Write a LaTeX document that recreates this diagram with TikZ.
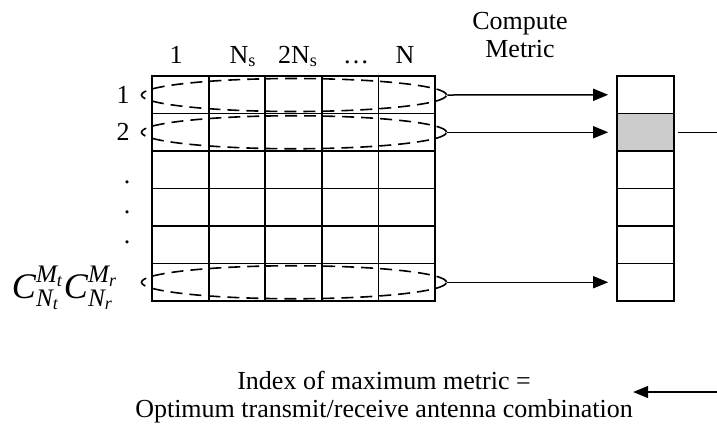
\documentclass[tikz,border=0pt]{standalone}
\usepackage{fontspec}
\setmainfont{Liberation Serif}
\usetikzlibrary{positioning,arrows.meta,shapes.geometric}

\begin{document}
\begin{tikzpicture}[
    x=0.5pt, y=-0.5pt,
    every node/.style={font=\fontsize{13}{14}\selectfont},
    cell/.style={draw, line width=0.9pt, minimum width=28.3pt, minimum height=18.75pt, inner sep=0pt, outer sep=0pt},
    ring/.style={draw, ellipse, line width=0.8pt, dash pattern=on 6pt off 3.5pt, minimum width=152.5pt, minimum height=16.5pt, inner sep=0pt},
    head/.style={anchor=base, inner sep=0pt},
    link/.style={line width=0.75pt, -{Triangle[length=7.5pt,width=6pt]}}
]
    \useasboundingbox (0,0) rectangle (717,425);

    % candidate matrix
    \foreach \r in {1,...,6}
        \foreach \c in {1,...,5}
            \node[cell] (g\r\c) at ({152+56.6*(\c-0.5)}, {76+37.5*(\r-0.5)}) {};

    % metric column
    \foreach \r in {1,...,6}
        \node[cell] (m\r) at (645.5, {76+37.5*(\r-0.5)}) {};
    \node[cell, fill=black!20] (m2) at (645.5, 132.25) {};

    % column headers
    \node[head] (h1) at (176,63) {1};
    \node[head] (h2) at (243,63) {N$_{\mathrm{s}}$};
    \node[head] (h3) at (298,63) {2N$_{\mathrm{s}}$};
    \node[head] (h4) at (356,63) {\ldots};
    \node[head] (h5) at (405,63) {N};
    \node[align=center] (compute) at (520,35) {Compute\\Metric};

    % row labels
    \node (r1) at (123,95) {1};
    \node (r2) at (123,132) {2};
    \node (d1) at (127,182) {.};
    \node (d2) at (127,212) {.};
    \node (d3) at (127,242) {.};
    \node (rc) at (65,288) {\fontsize{18}{20}\selectfont$\mathit{C}^{\mathit{M}_\mathit{t}}_{\mathit{N}_\mathit{t}}\mathit{C}^{\mathit{M}_\mathit{r}}_{\mathit{N}_\mathit{r}}$};

    % selected rows
    \node[ring] (e1) at (294,95) {};
    \node[ring] (e2) at (294,132.25) {};
    \node[ring] (e6) at (294,282.25) {};

    \draw[link, shorten >=4.5pt] (e1.east) -- (m1.west);
    \draw[link, shorten >=4.5pt] (e2.east) -- (m2.west);
    \draw[link, shorten >=4.5pt] (e6.east) -- (m6.west);

    % result
    \node[align=center, inner sep=0pt] (result) at (384,397) {Index of maximum metric =\\Optimum transmit/receive antenna combination};
    \coordinate (edge1) at (717,132.25);
    \coordinate (edge2) at (717,392);
    \draw[line width=0.75pt, shorten <=2pt] (m2.east) -- (edge1);
    \draw[link] (edge2) -- (result.east |- edge2);
\end{tikzpicture}
\end{document}
